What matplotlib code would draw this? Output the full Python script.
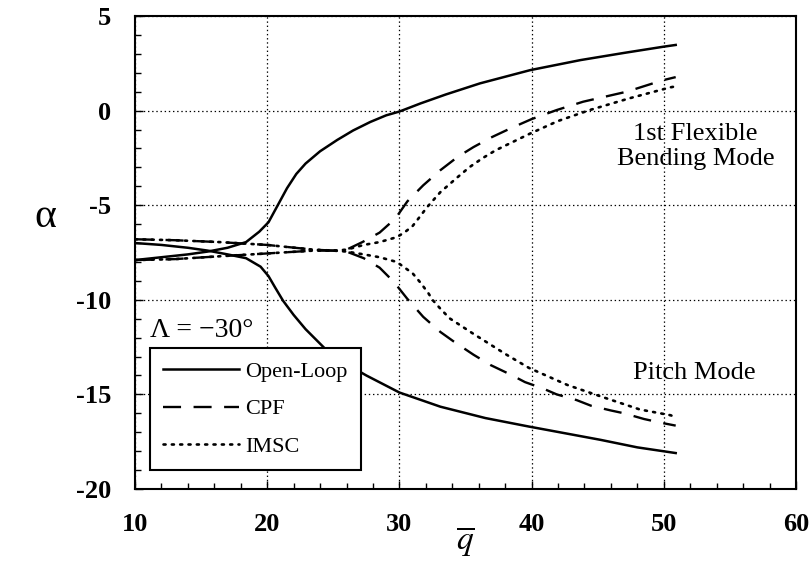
import matplotlib
matplotlib.use('Agg')
import matplotlib.pyplot as plt
from matplotlib.lines import Line2D
from matplotlib.ticker import MultipleLocator

plt.rcParams['font.family'] = 'serif'
plt.rcParams['font.serif'] = ['Liberation Serif', 'DejaVu Serif']
plt.rcParams['mathtext.fontset'] = 'stix'
plt.rcParams['axes.unicode_minus'] = False
plt.rcParams['lines.scale_dashes'] = False

# Open-Loop 两支
ol_up_x = [10, 12, 14, 15.5, 17, 18.4, 19.4, 20.1, 20.8, 21.5, 22.2, 22.9, 24.0, 25.3, 26.5, 27.8, 29.0, 30.0, 31.6, 33.5, 36.1, 39.9, 43.7, 47.0, 50.0, 50.9]
ol_up_y = [-7.9, -7.75, -7.6, -7.45, -7.25, -6.95, -6.4, -5.9, -5.0, -4.1, -3.35, -2.8, -2.15, -1.55, -1.05, -0.6, -0.25, -0.05, 0.38, 0.85, 1.44, 2.14, 2.67, 3.05, 3.38, 3.47]
ol_lo_x = [10, 12, 14, 15.5, 17, 18.4, 19.5, 20.1, 20.6, 21.2, 22.0, 22.9, 24.4, 26.0, 27.5, 30.0, 33.1, 36.5, 39.8, 42.5, 45.2, 48.0, 50.9]
ol_lo_y = [-7.0, -7.1, -7.25, -7.4, -7.6, -7.8, -8.25, -8.75, -9.35, -10.05, -10.8, -11.55, -12.6, -13.4, -14.0, -14.9, -15.65, -16.25, -16.7, -17.05, -17.4, -17.8, -18.1]

# CPF 两支
cpf_up_x = [10, 13, 16.4, 20, 23.5, 25, 26.0, 27.2, 28.5, 29.7, 30.6, 31.8, 33.1, 34.4, 35.6, 37.0, 38.4, 40.0, 41.9, 43.9, 47.2, 49.9, 50.9]
cpf_up_y = [-6.8, -6.85, -6.95, -7.1, -7.35, -7.4, -7.35, -6.95, -6.45, -5.7, -4.8, -3.95, -3.15, -2.45, -1.93, -1.4, -0.94, -0.45, 0.03, 0.47, 1.0, 1.6, 1.77]
cpf_lo_x = [10, 13, 16.4, 20, 23.5, 25, 26.0, 27.3, 28.5, 29.6, 30.6, 31.8, 33.1, 34.1, 35.6, 36.9, 38.4, 39.5, 40.9, 41.9, 43.4, 44.5, 46.0, 47.0, 48.5, 49.8, 50.9]
cpf_lo_y = [-7.9, -7.85, -7.7, -7.55, -7.4, -7.4, -7.45, -7.8, -8.3, -9.07, -9.95, -10.9, -11.7, -12.2, -12.9, -13.45, -13.95, -14.35, -14.7, -15.0, -15.3, -15.6, -15.85, -16.0, -16.3, -16.5, -16.65]

# IMSC 两支
imsc_up_x = [10, 13, 16.4, 20, 23.5, 25, 26.0, 27.3, 28.5, 29.8, 30.4, 31.0, 31.5, 32.1, 33.1, 34.4, 35.3, 36.3, 37.3, 39.9, 42.0, 44.4, 47.4, 50.5, 50.9]
imsc_up_y = [-6.8, -6.85, -6.95, -7.1, -7.35, -7.4, -7.35, -7.1, -6.95, -6.69, -6.43, -6.1, -5.65, -5.1, -4.31, -3.52, -2.99, -2.51, -2.09, -1.21, -0.55, 0.03, 0.65, 1.23, 1.28]
imsc_lo_x = [10, 13, 16.4, 20, 23.5, 25, 26.0, 27.3, 28.5, 29.8, 31.0, 31.6, 32.2, 32.5, 33.1, 33.8, 35.6, 38.1, 39.8, 42.7, 45.2, 48.2, 50.5, 50.9]
imsc_lo_y = [-7.9, -7.85, -7.7, -7.55, -7.4, -7.4, -7.45, -7.6, -7.75, -8.0, -8.6, -9.1, -9.66, -10.0, -10.47, -10.98, -11.8, -12.9, -13.6, -14.5, -15.1, -15.8, -16.1, -16.2]

fig = plt.figure(figsize=(8.12, 5.78), dpi=100)
ax = fig.add_axes([135 / 812, 1 - 489 / 578, 661 / 812, 473 / 578])

solid = dict(color='black', lw=1.8)
dashed = dict(color='black', lw=1.7, dashes=(13, 9))
dotted = dict(color='black', lw=1.9, dashes=(1.5, 4.5), dash_capstyle='round')

ax.plot(ol_up_x, ol_up_y, **solid)
ax.plot(ol_lo_x, ol_lo_y, **solid)
ax.plot(cpf_up_x, cpf_up_y, **dashed)
ax.plot(cpf_lo_x, cpf_lo_y, **dashed)
ax.plot(imsc_up_x, imsc_up_y, **dotted)
ax.plot(imsc_lo_x, imsc_lo_y, **dotted)

ax.set_xlim(10, 60)
ax.set_ylim(-20, 5)
ax.xaxis.set_major_locator(MultipleLocator(10))
ax.xaxis.set_minor_locator(MultipleLocator(2))
ax.yaxis.set_major_locator(MultipleLocator(5))
ax.yaxis.set_minor_locator(MultipleLocator(1))
ax.tick_params(which='both', direction='in', width=1, labelsize=19, pad=17)
ax.tick_params(which='major', length=6)
ax.tick_params(which='minor', length=4)
for lab in ax.get_xticklabels() + ax.get_yticklabels():
    lab.set_fontweight('bold')
for sp in ax.spines.values():
    sp.set_linewidth(1.5)

ax.grid(True, which='major', color='black', lw=0.9, dashes=(1, 2))

ax.set_xlabel(r'$\overline{q}$', fontsize=24, labelpad=-8)
ax.set_ylabel('α', fontsize=30, rotation=0, va='center', ha='center')
ax.yaxis.set_label_coords(-0.135, 0.575)

ax.text(52.4, -1.9, '1st Flexible\nBending Mode', fontsize=19, ha='center', va='center', linespacing=1.15)
ax.text(52.3, -13.85, 'Pitch Mode', fontsize=19, ha='center', va='center')
ax.text(11.1, -11.6, 'Λ = −30°', fontsize=20, ha='left', va='center')

handles = [Line2D([], [], **solid), Line2D([], [], **dashed), Line2D([], [], **dotted)]
leg = ax.legend(handles, ['Open-Loop', 'CPF', 'IMSC'], loc='lower left',
                bbox_to_anchor=(15 / 661, 19 / 473), borderaxespad=0, fontsize=16,
                fancybox=False, edgecolor='black', framealpha=1,
                handlelength=3.4, handletextpad=0.3, labelspacing=0.75, borderpad=0.6)
leg.get_frame().set_linewidth(1.5)

plt.savefig('out.png', dpi=100)
